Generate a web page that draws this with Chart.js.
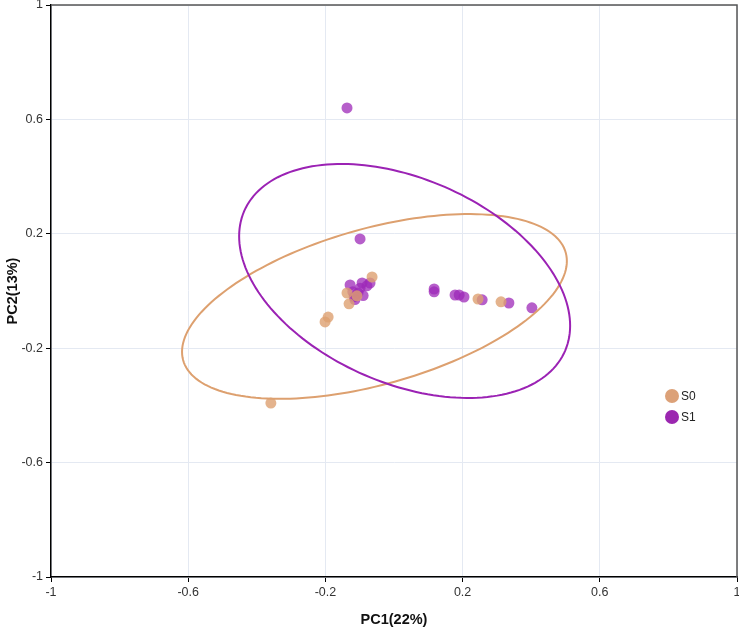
<!DOCTYPE html>
<html>
<head>
<meta charset="utf-8">
<script src="https://cdn.jsdelivr.net/npm/chart.js@4/dist/chart.umd.min.js"></script>
<style>
  html, body { margin: 0; padding: 0; background: #fff; }
  #wrap { width: 739px; height: 632px; }
</style>
</head>
<body>
<div id="wrap"><canvas id="pca" width="739" height="632"></canvas></div>
<script>
const groups = ['S0', 'S1'];
const tickValues = [-1, -0.6, -0.2, 0.2, 0.6, 1];

const s0X = [-0.359, -0.201, -0.192, -0.064, -0.137, -0.131, -0.108, 0.245, 0.312];
const s0Y = [-0.392, -0.108, -0.091, 0.049, -0.007, -0.045, -0.017, -0.028, -0.038];

const s1X = [-0.137, -0.099, -0.128, -0.093, -0.079, -0.070, -0.120, -0.105, -0.114, -0.090, -0.099, -0.116, 0.117, 0.117, 0.178, 0.190, 0.204, 0.257, 0.335, 0.402];
const s1Y = [0.640, 0.182, 0.021, 0.028, 0.018, 0.028, -0.003, -0.007, -0.030, -0.016, 0.010, -0.020, 0.007, -0.003, -0.014, -0.014, -0.021, -0.031, -0.042, -0.059];

// confidence ellipses: centre, x/y variance and the x-y covariance term
const ellipseCx = [-0.057, 0.031];
const ellipseCy = [-0.054, 0.035];
const ellipseSxx = [0.3147, 0.2328];
const ellipseSyy = [0.1043, 0.1673];
const ellipseSxy = [0.089, -0.0755];

const pointColors = ['rgba(221,160,112,0.8)', 'rgba(158,42,184,0.75)'];
const lineColors = ['#dda06f', '#9b22b4'];
const legendColors = ['#dca178', '#9b27b0'];

function toPoints(xs, ys) {
  return xs.map((x, i) => ({ x: x, y: ys[i] }));
}

const ellipsePlugin = {
  id: 'ellipses',
  afterDatasetsDraw(chart) {
    const ctx = chart.ctx;
    const xs = chart.scales.x, ys = chart.scales.y;
    const area = chart.chartArea;
    ctx.save();
    ctx.beginPath();
    ctx.rect(area.left, area.top, area.right - area.left, area.bottom - area.top);
    ctx.clip();
    groups.forEach((g, k) => {
      const a = Math.sqrt(ellipseSxx[k]);
      const c = ellipseSxy[k] / a;
      const d = Math.sqrt(ellipseSyy[k] - c * c);
      ctx.beginPath();
      for (let i = 0; i <= 180; i++) {
        const t = i / 180 * Math.PI * 2;
        const vx = ellipseCx[k] + a * Math.cos(t);
        const vy = ellipseCy[k] + c * Math.cos(t) + d * Math.sin(t);
        const px = xs.getPixelForValue(vx), py = ys.getPixelForValue(vy);
        if (i === 0) ctx.moveTo(px, py); else ctx.lineTo(px, py);
      }
      ctx.closePath();
      ctx.strokeStyle = lineColors[k];
      ctx.lineWidth = 2;
      ctx.stroke();
    });
    ctx.restore();
  },
  afterDraw(chart) {
    const ctx = chart.ctx;
    const area = chart.chartArea;
    ctx.save();
    // frame on top and right
    ctx.strokeStyle = '#555';
    ctx.lineWidth = 1.5;
    ctx.beginPath();
    ctx.moveTo(area.left, area.top);
    ctx.lineTo(area.right, area.top);
    ctx.lineTo(area.right, area.bottom);
    ctx.stroke();
    // legend
    ctx.font = '12px "Liberation Sans", Arial, sans-serif';
    ctx.textBaseline = 'middle';
    groups.forEach((g, k) => {
      const y = 396 + k * 21;
      ctx.beginPath();
      ctx.arc(672, y, 7, 0, Math.PI * 2);
      ctx.fillStyle = legendColors[k];
      ctx.fill();
      ctx.fillStyle = '#222';
      ctx.fillText(g, 681, y + 1);
    });
    ctx.restore();
  }
};

function axisOptions(title, isX) {
  return {
    type: 'linear',
    min: -1,
    max: 1,
    afterBuildTicks: scale => { scale.ticks = tickValues.map(v => ({ value: v })); },
    afterFit: scale => {
      if (isX) scale.height = 55; else scale.width = 51;
      // let the end labels hang over the edge like the original
      scale.paddingTop = 0;
      scale.paddingBottom = 0;
      scale.paddingLeft = 0;
      scale.paddingRight = 0;
    },
    ticks: {
      color: '#333',
      padding: 3,
      font: { family: '"Liberation Sans", Arial, sans-serif', size: 12.5 },
      callback: v => String(v)
    },
    grid: {
      color: '#e4e9f2',
      lineWidth: 1,
      tickColor: '#000',
      tickLength: 5
    },
    border: { color: '#000', width: 1.5 },
    title: {
      display: true,
      text: title,
      color: '#111',
      font: { family: '"Liberation Sans", Arial, sans-serif', size: 14.5, weight: 'bold' },
      padding: isX ? { top: 0, bottom: 3 } : { top: 4, bottom: 0 }
    }
  };
}

new Chart(document.getElementById('pca').getContext('2d'), {
  type: 'scatter',
  data: {
    datasets: [
      {
        label: groups[0],
        data: toPoints(s0X, s0Y),
        backgroundColor: pointColors[0],
        borderWidth: 0,
        pointRadius: 5.5
      },
      {
        label: groups[1],
        data: toPoints(s1X, s1Y),
        backgroundColor: pointColors[1],
        borderWidth: 0,
        pointRadius: 5.5
      }
    ]
  },
  options: {
    responsive: false,
    animation: false,
    layout: { autoPadding: false, padding: { top: 5, right: 2, left: 0, bottom: 0 } },
    plugins: {
      legend: { display: false },
      tooltip: { enabled: false }
    },
    scales: {
      x: axisOptions('PC1(22%)', true),
      y: axisOptions('PC2(13%)', false)
    }
  },
  plugins: [ellipsePlugin]
});
</script>
</body>
</html>
